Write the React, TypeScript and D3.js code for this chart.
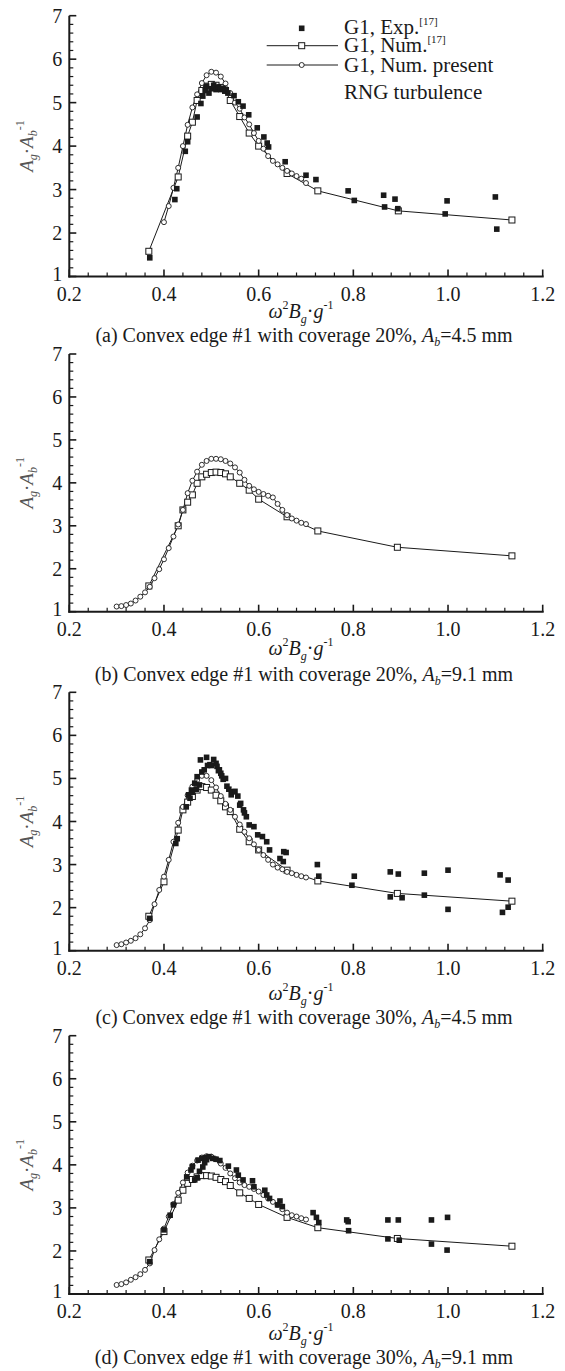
import React from "react";
import * as d3 from "d3";

// ---------- DATA ----------
const xTicks = [0.2, 0.4, 0.6, 0.8, 1.0, 1.2];
const yTicks = [1, 2, 3, 4, 5, 6, 7];

const captionsText = [
  ["(a) Convex edge #1 with coverage 20%, ", "=4.5 mm"],
  ["(b) Convex edge #1 with coverage 20%, ", "=9.1 mm"],
  ["(c) Convex edge #1 with coverage 30%, ", "=4.5 mm"],
  ["(d) Convex edge #1 with coverage 30%, ", "=9.1 mm"],
];

const legendLabels = ["G1, Exp.", "G1, Num.", "G1, Num. present", "RNG turbulence"];

// Panel (a)
const presentA = [
  [0.40, 2.25], [0.41, 2.62], [0.42, 3.04], [0.43, 3.50], [0.44, 4.00], [0.45, 4.49],
  [0.46, 4.89], [0.47, 5.19], [0.48, 5.45], [0.49, 5.63], [0.50, 5.71], [0.51, 5.69],
  [0.52, 5.60], [0.53, 5.44], [0.54, 5.22], [0.55, 5.00], [0.56, 4.86], [0.57, 4.66],
  [0.58, 4.50], [0.59, 4.30], [0.60, 4.12], [0.61, 3.94], [0.62, 3.77], [0.63, 3.66],
  [0.64, 3.58], [0.65, 3.50], [0.66, 3.43], [0.67, 3.37], [0.68, 3.31], [0.69, 3.25],
  [0.70, 3.15],
];
const num17A = [
  [0.368, 1.58], [0.43, 3.29], [0.45, 4.23], [0.46, 4.55], [0.47, 5.05], [0.48, 5.28],
  [0.49, 5.38], [0.50, 5.42], [0.51, 5.40], [0.52, 5.35], [0.53, 5.28], [0.54, 5.05],
  [0.56, 4.68], [0.58, 4.30], [0.60, 4.00], [0.66, 3.37], [0.725, 2.97], [0.895, 2.51],
  [1.135, 2.30],
];
const expA = [
  [0.370, 1.43], [0.423, 2.77], [0.427, 3.02], [0.445, 3.88], [0.450, 4.10], [0.470, 4.67],
  [0.478, 4.98], [0.482, 5.15], [0.487, 5.28], [0.490, 5.38], [0.495, 5.22], [0.500, 5.32],
  [0.505, 5.40], [0.510, 5.30], [0.515, 5.36], [0.520, 5.30], [0.525, 5.33], [0.530, 5.28],
  [0.535, 5.22], [0.548, 5.16], [0.557, 5.02], [0.567, 4.92], [0.579, 4.72], [0.597, 4.42],
  [0.611, 4.21], [0.618, 4.07], [0.621, 3.98], [0.656, 3.64], [0.700, 3.33], [0.721, 3.23],
  [0.789, 2.97], [0.802, 2.75], [0.864, 2.87], [0.866, 2.60], [0.888, 2.78], [0.894, 2.56],
  [0.998, 2.74], [0.994, 2.44], [1.100, 2.83], [1.103, 2.09],
];

// Panel (b)
const presentB = [
  [0.30, 1.12], [0.31, 1.13], [0.32, 1.155], [0.33, 1.19], [0.34, 1.26], [0.35, 1.35],
  [0.36, 1.45], [0.37, 1.58], [0.38, 1.78], [0.39, 1.99], [0.40, 2.22], [0.41, 2.48],
  [0.42, 2.75], [0.43, 3.03], [0.44, 3.37], [0.45, 3.76], [0.46, 4.05], [0.47, 4.26],
  [0.48, 4.42], [0.49, 4.51], [0.50, 4.56], [0.51, 4.56], [0.52, 4.55], [0.53, 4.51],
  [0.54, 4.45], [0.55, 4.36], [0.56, 4.24], [0.57, 4.07], [0.58, 3.93], [0.59, 3.85],
  [0.60, 3.79], [0.61, 3.74], [0.62, 3.70], [0.63, 3.66], [0.64, 3.51], [0.65, 3.37],
  [0.66, 3.25], [0.67, 3.17], [0.68, 3.12], [0.69, 3.07], [0.70, 3.04],
];
const num17B = [
  [0.368, 1.60], [0.43, 3.00], [0.44, 3.37], [0.45, 3.55], [0.46, 3.72], [0.47, 3.99],
  [0.48, 4.14], [0.49, 4.20], [0.50, 4.24], [0.51, 4.25], [0.52, 4.24], [0.53, 4.21],
  [0.54, 4.14], [0.56, 3.99], [0.58, 3.83], [0.60, 3.62], [0.66, 3.21], [0.725, 2.88],
  [0.893, 2.50], [1.135, 2.30],
];
const expB: number[][] = [];

// Panel (c)
const presentC = [
  [0.30, 1.13], [0.31, 1.15], [0.32, 1.19], [0.33, 1.23], [0.34, 1.29], [0.35, 1.38],
  [0.36, 1.52], [0.37, 1.71], [0.38, 2.08], [0.39, 2.41], [0.40, 2.72], [0.41, 3.11],
  [0.42, 3.53], [0.43, 3.97], [0.44, 4.34], [0.45, 4.61], [0.46, 4.81], [0.47, 4.96],
  [0.48, 5.06], [0.49, 5.06], [0.50, 4.96], [0.51, 4.79], [0.52, 4.59], [0.53, 4.41],
  [0.54, 4.27], [0.55, 4.11], [0.56, 3.93], [0.57, 3.76], [0.58, 3.61], [0.59, 3.47],
  [0.60, 3.34], [0.61, 3.22], [0.62, 3.11], [0.63, 3.00], [0.64, 2.93], [0.65, 2.89],
  [0.66, 2.83], [0.67, 2.80], [0.68, 2.76], [0.69, 2.73], [0.70, 2.70],
];
const num17C = [
  [0.368, 1.80], [0.40, 2.60], [0.43, 3.80], [0.44, 4.27], [0.45, 4.45], [0.46, 4.58],
  [0.47, 4.73], [0.48, 4.81], [0.49, 4.79], [0.50, 4.73], [0.51, 4.61], [0.52, 4.48],
  [0.53, 4.34], [0.54, 4.23], [0.56, 3.82], [0.58, 3.53], [0.60, 3.34], [0.66, 2.87],
  [0.725, 2.62], [0.893, 2.33], [1.135, 2.15],
];
const expC = [
  [0.370, 1.75], [0.425, 3.49], [0.428, 3.60], [0.447, 4.34], [0.452, 4.62], [0.455, 4.54],
  [0.458, 4.73], [0.460, 4.68], [0.465, 4.89], [0.468, 4.75], [0.470, 5.04], [0.475, 4.85],
  [0.477, 5.43], [0.480, 5.15], [0.485, 5.20], [0.490, 5.49], [0.492, 5.30], [0.497, 5.32],
  [0.500, 5.30], [0.505, 5.44], [0.510, 5.35], [0.512, 5.28], [0.515, 5.18], [0.517, 5.20],
  [0.520, 5.12], [0.522, 5.06], [0.525, 4.98], [0.530, 5.00], [0.533, 4.82], [0.537, 4.75],
  [0.542, 4.62], [0.545, 4.69], [0.550, 4.70], [0.556, 4.59], [0.560, 4.38], [0.562, 4.42],
  [0.568, 4.27], [0.570, 4.20], [0.574, 4.11], [0.580, 3.92], [0.590, 3.88], [0.598, 3.69],
  [0.608, 3.65], [0.617, 3.53], [0.623, 3.34], [0.645, 3.14], [0.652, 3.07], [0.653, 3.30],
  [0.658, 3.28], [0.724, 3.00], [0.727, 2.73], [0.797, 2.52], [0.802, 2.73], [0.878, 2.83],
  [0.878, 2.25], [0.895, 2.78], [0.903, 2.23], [0.950, 2.80], [0.950, 2.29], [1.000, 2.87],
  [1.000, 1.96], [1.110, 2.76], [1.115, 1.89], [1.127, 2.64], [1.127, 2.01],
];

// Panel (d)
const presentD = [
  [0.30, 1.21], [0.31, 1.23], [0.32, 1.27], [0.33, 1.33], [0.34, 1.39], [0.35, 1.46],
  [0.36, 1.56], [0.37, 1.71], [0.38, 2.02], [0.39, 2.27], [0.40, 2.52], [0.41, 2.80],
  [0.42, 3.09], [0.43, 3.35], [0.44, 3.59], [0.45, 3.82], [0.46, 3.98], [0.47, 4.10],
  [0.48, 4.17], [0.49, 4.20], [0.50, 4.19], [0.51, 4.13], [0.52, 4.03], [0.53, 3.93],
  [0.54, 3.80], [0.55, 3.69], [0.56, 3.59], [0.57, 3.53], [0.58, 3.49], [0.59, 3.44],
  [0.60, 3.38], [0.61, 3.30], [0.62, 3.22], [0.63, 3.14], [0.64, 3.07], [0.65, 2.97],
  [0.66, 2.89], [0.67, 2.83], [0.68, 2.80], [0.69, 2.76], [0.70, 2.73],
];
const num17D = [
  [0.368, 1.79], [0.40, 2.45], [0.43, 3.18], [0.44, 3.41], [0.45, 3.57], [0.46, 3.66],
  [0.47, 3.72], [0.48, 3.75], [0.49, 3.75], [0.50, 3.74], [0.51, 3.71], [0.52, 3.66],
  [0.53, 3.61], [0.54, 3.52], [0.56, 3.35], [0.58, 3.22], [0.60, 3.08], [0.66, 2.78],
  [0.725, 2.54], [0.893, 2.29], [1.135, 2.11],
];
const expD = [
  [0.370, 1.75], [0.400, 2.49], [0.413, 2.83], [0.420, 3.07], [0.448, 3.72], [0.457, 3.88],
  [0.460, 3.96], [0.465, 3.65], [0.470, 3.70], [0.472, 4.11], [0.475, 3.85], [0.480, 4.15],
  [0.482, 3.95], [0.486, 4.05], [0.488, 4.17], [0.490, 4.12], [0.495, 4.19], [0.503, 4.15],
  [0.510, 4.13], [0.518, 4.10], [0.536, 3.97], [0.553, 3.88], [0.557, 3.76], [0.567, 3.65],
  [0.587, 3.63], [0.590, 3.49], [0.613, 3.41], [0.617, 3.30], [0.623, 3.22], [0.640, 3.07],
  [0.645, 3.16], [0.650, 3.03], [0.715, 2.89], [0.722, 2.78], [0.727, 2.66], [0.786, 2.72],
  [0.789, 2.68], [0.790, 2.47], [0.873, 2.72], [0.873, 2.28], [0.895, 2.72], [0.897, 2.25],
  [0.965, 2.72], [0.965, 2.16], [0.999, 2.78], [0.998, 2.02],
];

const presentSeries = [presentA, presentB, presentC, presentD];
const num17Series = [num17A, num17B, num17C, num17D];
const expSeries = [expA, expB, expC, expD];

// ---------- LAYOUT ----------
const W = 565;
const H = 1371;
const LEFT = 69.3;
const RIGHT = 542.7;
const panels = [
  { top: 15.7, bottom: 276.5, titleY: 318, capY: 342 },
  { top: 354, bottom: 611.7, titleY: 655, capY: 681 },
  { top: 692.3, bottom: 950.7, titleY: 1000, capY: 1024 },
  { top: 1035.7, bottom: 1294, titleY: 1340, capY: 1364 },
];
const FONT = "'Liberation Serif', 'Times New Roman', serif";
const INK = "#1a1a1a";

function Panel({ idx }: { idx: number }) {
  const p = panels[idx];
  const x = d3.scaleLinear().domain([0.2, 1.2]).range([LEFT, RIGHT]);
  const y = d3.scaleLinear().domain([1, 7]).range([p.bottom, p.top]);
  const line = d3
    .line<number[]>()
    .x((d) => x(d[0]))
    .y((d) => y(d[1]));

  const xMinor = d3.range(0, 26).map((i) => 0.2 + i * 0.04).filter((_, i) => i % 5 !== 0);
  const yMinor = d3.range(0, 31).map((i) => 1 + i * 0.2).filter((_, i) => i % 5 !== 0);
  const fmt = d3.format(".1f");
  const midY = (p.top + p.bottom) / 2;
  const cx = 304;

  return (
    <g>
      {/* data */}
      <path d={line(num17Series[idx]) || ""} fill="none" stroke={INK} strokeWidth={1} />
      <path d={line(presentSeries[idx]) || ""} fill="none" stroke={INK} strokeWidth={1} />
      {num17Series[idx].map((d, i) => (
        <rect key={"s" + i} x={x(d[0]) - 3} y={y(d[1]) - 3} width={6} height={6}
          fill="#fff" stroke={INK} strokeWidth={1} />
      ))}
      {presentSeries[idx].map((d, i) => (
        <circle key={"c" + i} cx={x(d[0])} cy={y(d[1])} r={2.5}
          fill="#fff" stroke={INK} strokeWidth={0.9} />
      ))}
      {expSeries[idx].map((d, i) => (
        <rect key={"e" + i} x={x(d[0]) - 2.8} y={y(d[1]) - 2.8} width={5.6} height={5.6} fill={INK} />
      ))}

      {/* axes */}
      <line x1={LEFT} x2={LEFT} y1={p.top} y2={p.bottom + 1} stroke={INK} strokeWidth={2} />
      <line x1={LEFT - 1} x2={RIGHT + 1} y1={p.bottom} y2={p.bottom} stroke={INK} strokeWidth={2} />
      {xTicks.map((t) => (
        <g key={"xt" + t}>
          <line x1={x(t)} x2={x(t)} y1={p.bottom} y2={p.bottom - 7} stroke={INK} strokeWidth={1.6} />
          <text x={x(t)} y={p.bottom + 24} textAnchor="middle" fontSize={20} fontFamily={FONT} fill={INK}>
            {fmt(t)}
          </text>
        </g>
      ))}
      {xMinor.map((t, i) => (
        <line key={"xm" + i} x1={x(t)} x2={x(t)} y1={p.bottom} y2={p.bottom - 4} stroke={INK} strokeWidth={1.2} />
      ))}
      {yTicks.map((t) => (
        <g key={"yt" + t}>
          <line x1={LEFT} x2={LEFT + 7} y1={y(t)} y2={y(t)} stroke={INK} strokeWidth={1.6} />
          <text x={LEFT - 7} y={y(t) - (t === 1 ? 3 : 0)} dy="0.35em" textAnchor="end" fontSize={20}
            fontFamily={FONT} fill={INK}>
            {t}
          </text>
        </g>
      ))}
      {yMinor.map((t, i) => (
        <line key={"ym" + i} x1={LEFT} x2={LEFT + 4} y1={y(t)} y2={y(t)} stroke={INK} strokeWidth={1.2} />
      ))}

      {/* y label */}
      <text transform={`translate(33,${midY}) rotate(-90)`} textAnchor="middle" fontSize={19}
        fontFamily={FONT} fill="#555" fontStyle="italic">
        <tspan>A</tspan>
        <tspan fontSize={12} dy={4}>g</tspan>
        <tspan dy={-4} fontStyle="normal">·</tspan>
        <tspan>A</tspan>
        <tspan fontSize={12} dy={4}>b</tspan>
        <tspan fontSize={12} dy={-13} fontStyle="normal">-1</tspan>
      </text>

      {/* x title */}
      <text x={301} y={p.titleY} textAnchor="middle" fontSize={20} fontFamily={FONT} fill={INK}>
        <tspan fontStyle="italic">ω</tspan>
        <tspan fontSize={12} dy={-9}>2</tspan>
        <tspan fontStyle="italic" dy={9}>B</tspan>
        <tspan fontSize={12} fontStyle="italic" dy={5}>g</tspan>
        <tspan dy={-5}>·</tspan>
        <tspan fontStyle="italic">g</tspan>
        <tspan fontSize={12} dy={-9}>-1</tspan>
      </text>

      {/* caption */}
      <text x={cx} y={p.capY} textAnchor="middle" fontSize={20} fontFamily={FONT} fill={INK}>
        <tspan>{captionsText[idx][0]}</tspan>
        <tspan fontStyle="italic">A</tspan>
        <tspan fontSize={12} fontStyle="italic" dy={4}>b</tspan>
        <tspan dy={-4}>{captionsText[idx][1]}</tspan>
      </text>
    </g>
  );
}

function Legend() {
  const mx = 301.7;
  const tx = 344;
  return (
    <g fontFamily={FONT} fontSize={21} fill={INK}>
      <rect x={mx - 2.8} y={28.3 - 2.8} width={5.6} height={5.6} fill={INK} />
      <text x={tx} y={34.3}>
        {legendLabels[0]}
        <tspan fontSize={11} dy={-9}>[17]</tspan>
      </text>

      <line x1={266.7} x2={338} y1={45.7} y2={45.7} stroke={INK} strokeWidth={1} />
      <rect x={mx - 3} y={45.7 - 3} width={6} height={6} fill="#fff" stroke={INK} strokeWidth={1} />
      <text x={tx} y={52.3}>
        {legendLabels[1]}
        <tspan fontSize={11} dy={-9}>[17]</tspan>
      </text>

      <line x1={266.7} x2={338} y1={65} y2={65} stroke={INK} strokeWidth={1} />
      <circle cx={mx} cy={65} r={2.5} fill="#fff" stroke={INK} strokeWidth={0.9} />
      <text x={tx} y={71.7}>{legendLabels[2]}</text>
      <text x={tx} y={99}>{legendLabels[3]}</text>
    </g>
  );
}

export default function App() {
  return (
    <svg width={W} height={H} viewBox={`0 0 ${W} ${H}`}
      style={{ position: "absolute", left: 0, top: 0, background: "#fff" }}>
      <rect width={W} height={H} fill="#fff" />
      {[0, 1, 2, 3].map((i) => (
        <Panel key={i} idx={i} />
      ))}
      <Legend />
    </svg>
  );
}
